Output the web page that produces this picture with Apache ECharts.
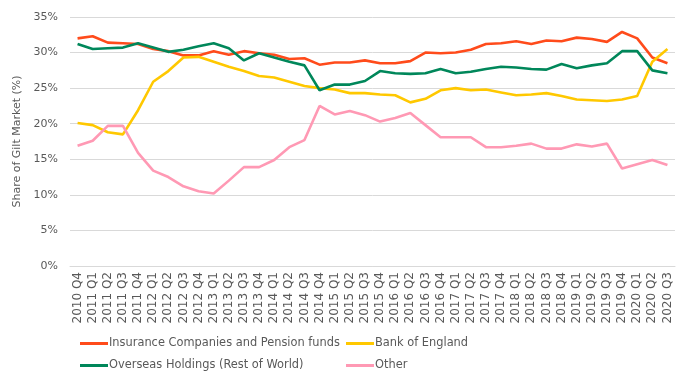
<!DOCTYPE html>
<html>
<head>
<meta charset="utf-8">
<script src="https://cdn.jsdelivr.net/npm/echarts@6/dist/echarts.min.js"></script>
<style>
  html, body { margin: 0; padding: 0; background: #fff; }
  #chart { width: 684px; height: 376px; }
</style>
</head>
<body>
<div id="chart"></div>
<script>
const quarters = [
  "2010 Q4",
  "2011 Q1", "2011 Q2", "2011 Q3", "2011 Q4",
  "2012 Q1", "2012 Q2", "2012 Q3", "2012 Q4",
  "2013 Q1", "2013 Q2", "2013 Q3", "2013 Q4",
  "2014 Q1", "2014 Q2", "2014 Q3", "2014 Q4",
  "2015 Q1", "2015 Q2", "2015 Q3", "2015 Q4",
  "2016 Q1", "2016 Q2", "2016 Q3", "2016 Q4",
  "2017 Q1", "2017 Q2", "2017 Q3", "2017 Q4",
  "2018 Q1", "2018 Q2", "2018 Q3", "2018 Q4",
  "2019 Q1", "2019 Q2", "2019 Q3", "2019 Q4",
  "2020 Q1", "2020 Q2", "2020 Q3"
];

const insurancePension = [
  32.0, 32.3, 31.4, 31.3, 31.2, 30.5, 30.2, 29.6, 29.6, 30.2,
  29.7, 30.2, 29.9, 29.7, 29.1, 29.2, 28.3, 28.6, 28.6, 28.9,
  28.5, 28.5, 28.8, 30.0, 29.9, 30.0, 30.4, 31.2, 31.3, 31.6,
  31.2, 31.7, 31.6, 32.1, 31.9, 31.5, 32.9, 32.0, 29.3, 28.5
];
const bankOfEngland = [
  20.1, 19.8, 18.8, 18.5, 21.9, 25.9, 27.4, 29.3, 29.4, 28.7,
  28.0, 27.4, 26.7, 26.5, 25.9, 25.3, 25.0, 24.8, 24.3, 24.3,
  24.1, 24.0, 23.0, 23.5, 24.7, 25.0, 24.7, 24.8, 24.4, 24.0,
  24.1, 24.3, 23.9, 23.4, 23.3, 23.2, 23.4, 23.9, 28.7, 30.5
];
const overseas = [
  31.2, 30.5, 30.6, 30.7, 31.3, 30.7, 30.1, 30.4, 30.9, 31.3,
  30.6, 28.9, 29.9, 29.3, 28.7, 28.2, 24.7, 25.5, 25.5, 26.0,
  27.4, 27.1, 27.0, 27.1, 27.7, 27.1, 27.3, 27.7, 28.0, 27.9,
  27.7, 27.6, 28.4, 27.8, 28.2, 28.5, 30.2, 30.2, 27.5, 27.1
];
const other = [
  16.9, 17.6, 19.7, 19.7, 15.9, 13.4, 12.5, 11.2, 10.5, 10.2,
  12.0, 13.9, 13.9, 14.9, 16.7, 17.7, 22.5, 21.3, 21.8, 21.2,
  20.3, 20.8, 21.5, 19.8, 18.1, 18.1, 18.1, 16.7, 16.7, 16.9,
  17.2, 16.5, 16.5, 17.1, 16.8, 17.2, 13.7, 14.3, 14.9, 14.2
];

const textColor = "#595959";
const font = "DejaVu Sans, Verdana, sans-serif";

function line(name, data, color) {
  return {
    name: name,
    type: "line",
    data: data,
    symbol: "none",
    lineStyle: { width: 2.6, color: color },
    itemStyle: { color: color },
    animation: false
  };
}

function legendCol(left, names) {
  return {
    left: left,
    top: 338,
    padding: 0,
    orient: "vertical",
    icon: "rect",
    itemWidth: 28,
    itemHeight: 3,
    itemGap: 11,
    data: names,
    textStyle: { color: textColor, fontSize: 11.4, fontFamily: font, padding: [0, 0, 0, -4] }
  };
}

const myChart = echarts.init(document.getElementById("chart"), null, { renderer: "canvas" });
const option = {
  backgroundColor: "#fff",
  grid: { left: 70, right: 9, top: 17, bottom: 110 },
  legend: [
    legendCol(80, ["Insurance Companies and Pension funds", "Overseas Holdings (Rest of World)"]),
    legendCol(346, ["Bank of England", "Other"])
  ],
  xAxis: {
    type: "category",
    data: quarters,
    boundaryGap: true,
    axisLine: { lineStyle: { color: "#d9d9d9" } },
    axisTick: { show: false },
    axisLabel: {
      rotate: 90,
      interval: 0,
      margin: 6,
      color: textColor,
      fontSize: 12,
      fontFamily: font
    }
  },
  yAxis: {
    type: "value",
    min: 0,
    max: 35,
    interval: 5,
    name: "Share of Gilt Market (%)",
    nameLocation: "middle",
    nameGap: 42,
    nameTextStyle: { color: textColor, fontSize: 11, fontFamily: font },
    axisLine: { show: false },
    axisTick: { show: false },
    axisLabel: {
      color: textColor,
      fontSize: 11,
      fontFamily: font,
      margin: 12,
      formatter: "{value}%"
    },
    splitLine: { lineStyle: { color: "#d9d9d9" } }
  },
  series: [
    line("Insurance Companies and Pension funds", insurancePension, "#ff4b1b"),
    line("Bank of England", bankOfEngland, "#ffc800"),
    line("Overseas Holdings (Rest of World)", overseas, "#00875a"),
    line("Other", other, "#ff99b4")
  ]
};
myChart.setOption(option);
</script>
</body>
</html>
